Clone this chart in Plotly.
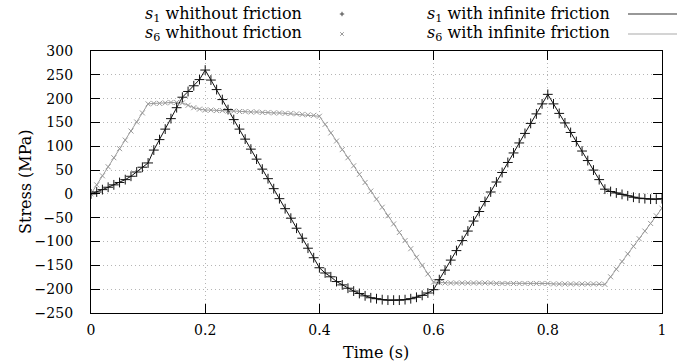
import plotly.graph_objects as go

time = [round(i * 0.01, 2) for i in range(101)]

s1_stress = [
    0, 4, 9, 14, 19, 24, 30, 37, 46, 56,
    65, 92, 114, 136, 158, 181, 203, 215, 227, 240,
    260, 239, 219, 198, 177, 156, 136, 115, 94, 73,
    52, 32, 11, -10, -31, -51, -72, -93, -114, -134,
    -155, -166, -174, -184, -191, -198, -204, -209, -214, -218,
    -220, -222, -223, -223, -223, -222, -220, -217, -213, -208,
    -201, -180, -160, -139, -119, -98, -78, -57, -37, -16,
    4, 25, 45, 66, 86, 107, 127, 148, 168, 189,
    209, 189, 169, 149, 129, 110, 90, 70, 50, 30,
    10, 5, 2, -1, -4, -7, -9, -10, -11, -11,
    -10,
]

s6_stress = [
    0, 19, 38, 57, 76, 95, 113, 132, 151, 170,
    189, 190, 190, 191, 192, 192, 191, 186, 181, 178,
    176, 176, 175, 175, 174, 174, 173, 173, 172, 172,
    171, 171, 170, 170, 169, 169, 168, 167, 166, 165,
    163, 146, 128, 111, 93, 76, 59, 41, 24, 6,
    -11, -28, -46, -63, -81, -98, -115, -133, -150, -168,
    -185, -186, -187, -187, -187, -187, -187, -187, -187, -187,
    -187, -188, -188, -188, -188, -188, -188, -188, -188, -188,
    -188, -189, -189, -189, -189, -189, -189, -189, -189, -189,
    -190, -174, -158, -142, -126, -110, -94, -78, -62, -46,
    -30,
]

legend_labels = [
    "<i>s</i><sub>1</sub> whithout friction",
    "<i>s</i><sub>6</sub> whithout friction",
    "<i>s</i><sub>1</sub> with infinite friction",
    "<i>s</i><sub>6</sub> with infinite friction",
]

x_title = "Time (s)"
y_title = "Stress (MPa)"
x_ticks = [0, 0.2, 0.4, 0.6, 0.8, 1]
x_ticktext = ["0", "0.2", "0.4", "0.6", "0.8", "1"]
y_ticks = list(range(-250, 301, 50))

BLACK = "#111111"
GRAY = "#9a9a9a"
FONT = "DejaVu Serif"
FS_TICK = 14
FS_TEXT = 16

fig = go.Figure()

fig.add_trace(go.Scatter(x=time, y=s6_stress, mode="lines",
                         line=dict(color=GRAY, width=1), showlegend=False))
fig.add_trace(go.Scatter(x=time, y=s1_stress, mode="lines",
                         line=dict(color=BLACK, width=1), showlegend=False))
fig.add_trace(go.Scatter(x=time, y=s6_stress, mode="markers",
                         marker=dict(symbol="x-thin", size=5, color=GRAY,
                                     line=dict(color=GRAY, width=1)),
                         showlegend=False))
fig.add_trace(go.Scatter(x=time, y=s1_stress, mode="markers",
                         marker=dict(symbol="cross-thin", size=7, color=BLACK,
                                     line=dict(color=BLACK, width=1)),
                         showlegend=False))
# empty trace so the overlay tick axes are drawn
fig.add_trace(go.Scatter(x=[None], y=[None], xaxis="x2", yaxis="y2",
                         mode="lines", showlegend=False, hoverinfo="skip"))

L, R, T, B = 91, 662, 51, 313


def px_x(px):
    return (px - L) / float(R - L)


def px_y(py):
    return (B - py) / float(B - T)


row_py = [14, 34]
col_right_px = [304, 612]
mark_px = 342
line_px = (628, 677)

annotations = []
for i, lab in enumerate(legend_labels):
    col, row = i // 2, i % 2
    annotations.append(dict(
        text=lab, xref="paper", yref="paper",
        x=px_x(col_right_px[col]), y=px_y(row_py[row]),
        xanchor="right", yanchor="middle", showarrow=False,
        font=dict(family=FONT, size=FS_TEXT, color="black")))
annotations.append(dict(
    text=x_title, xref="paper", yref="paper", x=px_x(376), y=px_y(352),
    xanchor="center", yanchor="middle", showarrow=False,
    font=dict(family=FONT, size=FS_TEXT, color="black")))
annotations.append(dict(
    text=y_title, xref="paper", yref="paper", x=px_x(25), y=px_y(182),
    xanchor="center", yanchor="middle", showarrow=False, textangle=-90,
    font=dict(family=FONT, size=FS_TEXT, color="black")))

shapes = []
h = 2.2
shapes.append(dict(type="line", xref="paper", yref="paper",
                   x0=px_x(mark_px - h), x1=px_x(mark_px + h),
                   y0=px_y(row_py[0]), y1=px_y(row_py[0]),
                   line=dict(color="#444444", width=1)))
shapes.append(dict(type="line", xref="paper", yref="paper",
                   x0=px_x(mark_px), x1=px_x(mark_px),
                   y0=px_y(row_py[0] - h), y1=px_y(row_py[0] + h),
                   line=dict(color="#444444", width=1)))
d = 1.8
for sgn in (1, -1):
    shapes.append(dict(type="line", xref="paper", yref="paper",
                       x0=px_x(mark_px - d), x1=px_x(mark_px + d),
                       y0=px_y(row_py[1] - sgn * d), y1=px_y(row_py[1] + sgn * d),
                       line=dict(color=GRAY, width=1)))
shapes.append(dict(type="line", xref="paper", yref="paper",
                   x0=px_x(line_px[0]), x1=px_x(line_px[1]),
                   y0=px_y(row_py[0]), y1=px_y(row_py[0]),
                   line=dict(color="#333333", width=1.2)))
shapes.append(dict(type="line", xref="paper", yref="paper",
                   x0=px_x(line_px[0]), x1=px_x(line_px[1]),
                   y0=px_y(row_py[1]), y1=px_y(row_py[1]),
                   line=dict(color="#aaaaaa", width=1.2)))

# main axes: grid + labels (transparent outside ticks give label spacing)
label_axis = dict(
    showline=True, linecolor="black", linewidth=1.3, mirror=True,
    ticks="outside", tickwidth=1, tickcolor="rgba(0,0,0,0)",
    showgrid=True, gridcolor="#b5b5b5", griddash="1px,3px", gridwidth=1,
    zeroline=False,
    tickfont=dict(family=FONT, size=FS_TICK, color="black"),
)
# overlay axes: black inside ticks on all four sides
tick_axis = dict(
    showline=True, linecolor="black", linewidth=1.3,
    mirror="ticks", ticks="inside", ticklen=9, tickwidth=1.2,
    tickcolor="black", showgrid=False, zeroline=False, showticklabels=False,
)

fig.update_layout(
    width=691, height=361,
    margin=dict(l=L, r=691 - R, t=T, b=361 - B),
    paper_bgcolor="white", plot_bgcolor="white",
    font=dict(family=FONT, size=FS_TEXT, color="black"),
    xaxis=dict(range=[0, 1], tickvals=x_ticks, ticktext=x_ticktext,
               ticklen=4, **label_axis),
    yaxis=dict(range=[-250, 300], tickvals=y_ticks, ticklen=14,
               **label_axis),
    xaxis2=dict(overlaying="x", matches="x", range=[0, 1],
                tickvals=x_ticks, side="bottom", **tick_axis),
    yaxis2=dict(overlaying="y", matches="y", range=[-250, 300],
                tickvals=y_ticks, side="left", **tick_axis),
    annotations=annotations,
    shapes=shapes,
    showlegend=False,
)

fig.write_html("out.html")
